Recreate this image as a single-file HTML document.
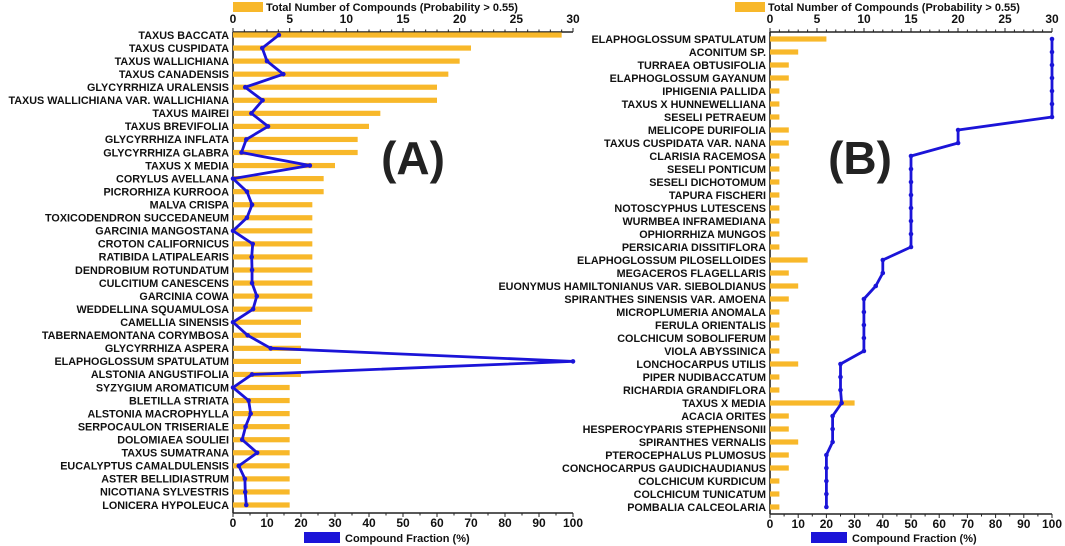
<!DOCTYPE html>
<html><head><meta charset="utf-8"><style>
html,body{margin:0;padding:0;background:#fff;}
svg{display:block;font-family:"Liberation Sans",Arial,sans-serif;}
.lbl{font-size:10.8px;font-weight:bold;fill:#111;}
.tk{font-size:12px;font-weight:bold;fill:#111;}
.lg{font-size:11px;font-weight:bold;fill:#111;}
</style></head><body>
<svg id="chart" width="1065" height="546" viewBox="0 0 1065 546"></svg>
<script>
const catsA=["TAXUS BACCATA","TAXUS CUSPIDATA","TAXUS WALLICHIANA","TAXUS CANADENSIS","GLYCYRRHIZA URALENSIS","TAXUS WALLICHIANA VAR. WALLICHIANA","TAXUS MAIREI","TAXUS BREVIFOLIA","GLYCYRRHIZA INFLATA","GLYCYRRHIZA GLABRA","TAXUS X MEDIA","CORYLUS AVELLANA","PICRORHIZA KURROOA","MALVA CRISPA","TOXICODENDRON SUCCEDANEUM","GARCINIA MANGOSTANA","CROTON CALIFORNICUS","RATIBIDA LATIPALEARIS","DENDROBIUM ROTUNDATUM","CULCITIUM CANESCENS","GARCINIA COWA","WEDDELLINA SQUAMULOSA","CAMELLIA SINENSIS","TABERNAEMONTANA CORYMBOSA","GLYCYRRHIZA ASPERA","ELAPHOGLOSSUM SPATULATUM","ALSTONIA ANGUSTIFOLIA","SYZYGIUM AROMATICUM","BLETILLA STRIATA","ALSTONIA MACROPHYLLA","SERPOCAULON TRISERIALE","DOLOMIAEA SOULIEI","TAXUS SUMATRANA","EUCALYPTUS CAMALDULENSIS","ASTER BELLIDIASTRUM","NICOTIANA SYLVESTRIS","LONICERA HYPOLEUCA"];
const countsA=[29,21,20,19,18,18,13,12,11,11,9,8,8,7,7,7,7,7,7,7,7,7,6,6,6,6,6,5,5,5,5,5,5,5,5,5,5];
const fracA=[13.5,8.6,10,14.8,3.6,8.7,5.4,10.3,3.9,2.5,22.6,0,4.1,5.6,4.1,0,5.8,5.5,5.6,5.6,7,5.9,0,4.3,11.1,100,5.6,0,4.6,5.2,3.7,2.7,7.1,1.7,3.5,3.6,3.9];
const catsB=["ELAPHOGLOSSUM SPATULATUM","ACONITUM SP.","TURRAEA OBTUSIFOLIA","ELAPHOGLOSSUM GAYANUM","IPHIGENIA PALLIDA","TAXUS X HUNNEWELLIANA","SESELI PETRAEUM","MELICOPE DURIFOLIA","TAXUS CUSPIDATA VAR. NANA","CLARISIA RACEMOSA","SESELI PONTICUM","SESELI DICHOTOMUM","TAPURA FISCHERI","NOTOSCYPHUS LUTESCENS","WURMBEA INFRAMEDIANA","OPHIORRHIZA MUNGOS","PERSICARIA DISSITIFLORA","ELAPHOGLOSSUM PILOSELLOIDES","MEGACEROS FLAGELLARIS","EUONYMUS HAMILTONIANUS VAR. SIEBOLDIANUS","SPIRANTHES SINENSIS VAR. AMOENA","MICROPLUMERIA ANOMALA","FERULA ORIENTALIS","COLCHICUM SOBOLIFERUM","VIOLA ABYSSINICA","LONCHOCARPUS UTILIS","PIPER NUDIBACCATUM","RICHARDIA GRANDIFLORA","TAXUS X MEDIA","ACACIA ORITES","HESPEROCYPARIS STEPHENSONII","SPIRANTHES VERNALIS","PTEROCEPHALUS PLUMOSUS","CONCHOCARPUS GAUDICHAUDIANUS","COLCHICUM KURDICUM","COLCHICUM TUNICATUM","POMBALIA CALCEOLARIA"];
const countsB=[6,3,2,2,1,1,1,2,2,1,1,1,1,1,1,1,1,4,2,3,2,1,1,1,1,3,1,1,9,2,2,3,2,2,1,1,1];
const fracB=[100,100,100,100,100,100,100,66.7,66.7,50,50,50,50,50,50,50,50,40,40,37.5,33.3,33.3,33.3,33.3,33.3,25,25,25,25.4,22.2,22.2,22.2,20,20,20,20,20];
const topTicks=[0,5,10,15,20,25,30];
const botTicks=[0,10,20,30,40,50,60,70,80,90,100];

const NS="http://www.w3.org/2000/svg";
const svg=document.getElementById('chart');
function mk(t,a,p){const e=document.createElementNS(NS,t);for(const k in a)e.setAttribute(k,a[k]);(p||svg).appendChild(e);return e;}

function panel(o){
  const g=mk('g',{});
  
  
  const xT=v=>o.x0+(o.x1-o.x0)*v/30;
  const xB=v=>o.x0+(o.x1-o.x0)*v/100;
  const n=o.cats.length;
  const yR=i=>o.yFirst+(o.yLast-o.yFirst)*i/(n-1);
  const ls=mk('rect',{x:o.lgTop,y:2,width:30,height:10,fill:'#F8B82A'},g);
  
  
  const lt=mk('text',{x:o.lgTop+33,y:11,class:'lg'},g);lt.textContent='Total Number of Compounds (Probability > 0.55)';
  
  
  mk('line',{x1:o.x0,x2:o.x1,y1:o.yTop,y2:o.yTop,stroke:'#222','stroke-width':1.6},g);
  for(let v=0;v<=30;v++){const x=xT(v);mk('line',{x1:x,x2:x,y1:o.yTop,y2:o.yTop-(v%5?2.5:4),stroke:'#222','stroke-width':1},g);}
  topTicks.forEach(v=>{const t=mk('text',{x:xT(v),y:o.yTop-9,class:'tk','text-anchor':'middle'},g);t.textContent=v;
    
    });
  mk('line',{x1:o.x0,x2:o.x0,y1:o.yTop,y2:o.yBot,stroke:'#222','stroke-width':1.6},g);
  mk('line',{x1:o.x0,x2:o.x1,y1:o.yBot,y2:o.yBot,stroke:'#222','stroke-width':1.6},g);
  for(let v=0;v<=100;v+=5){const x=xB(v);mk('line',{x1:x,x2:x,y1:o.yBot,y2:o.yBot+(v%10?2.5:4),stroke:'#222','stroke-width':1},g);}
  botTicks.forEach(v=>{const t=mk('text',{x:xB(v),y:o.yBot+14,class:'tk','text-anchor':'middle'},g);t.textContent=v;
    
    });
  const bs=mk('rect',{x:o.lgx,y:532,width:36,height:11,fill:'#1B14D8'},g);
  
  
  const bt=mk('text',{x:o.lgx+41,y:542,class:'lg'},g);bt.textContent='Compound Fraction (%)';
  
  
  o.cats.forEach((c,i)=>{
    const y=yR(i);
    const b=mk('rect',{x:o.x0,y:y-2.6,width:xT(o.counts[i])-o.x0,height:5.2,fill:'#F8B82A'},g);
    
    
    const t=mk('text',{x:o.x0-4,y:y+3.8,class:'lbl','text-anchor':'end'},g);t.textContent=c;
    
    
  });
  const pts=o.frac.map((v,i)=>xB(v)+','+yR(i)).join(' ');
  const pl=mk('polyline',{points:pts,fill:'none',stroke:'#1B14D8','stroke-width':2.8,'stroke-linejoin':'round'},g);
  
  
  o.frac.forEach((v,i)=>{const p=mk('circle',{cx:xB(v),cy:yR(i),r:2.3,fill:'#1B14D8'},g);
    
    });
  const pt=mk('text',{x:o.px,y:174,'font-size':'46','font-weight':'bold',fill:'#222','text-anchor':'middle'},g);pt.textContent=o.tag;
  
  
}
panel({name:'panel-a',cats:catsA,counts:countsA,frac:fracA,x0:233,x1:573,yTop:32,yBot:513,yFirst:35,yLast:505,lgx:304,lgTop:233,px:413,tag:'(A)'});
panel({name:'panel-b',cats:catsB,counts:countsB,frac:fracB,x0:770,x1:1052,yTop:32,yBot:514,yFirst:39,yLast:507,lgx:811,lgTop:735,px:860,tag:'(B)'});
</script>
</body></html>
